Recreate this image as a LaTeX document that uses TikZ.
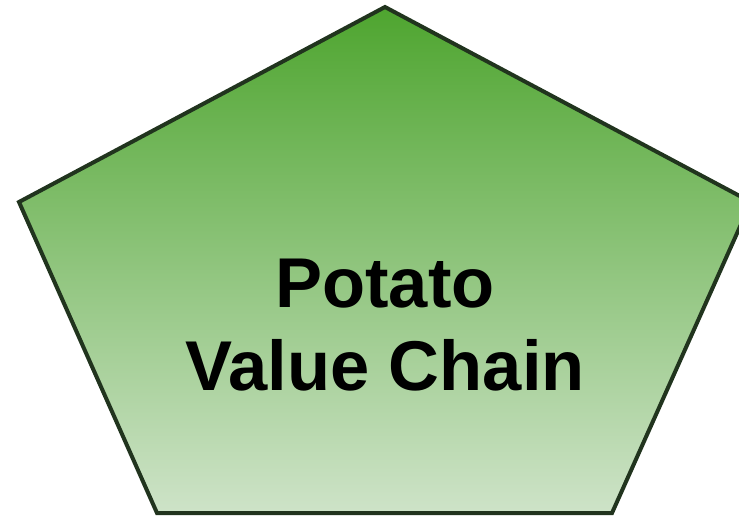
\documentclass[tikz,border=0pt]{standalone}
\usepackage{fontspec}
\setmainfont{Liberation Sans}
\definecolor{gtop}{RGB}{78,165,47}
\definecolor{gbot}{RGB}{206,227,200}
\definecolor{edge}{RGB}{33,52,30}
\tikzset{
  pent/.style={draw=edge, line width=4pt, line join=miter, top color=gtop, bottom color=gbot},
  title/.style={font=\fontsize{70.5}{82}\selectfont\bfseries, text=black, inner sep=0pt, anchor=base}
}
\begin{document}
\begin{tikzpicture}[x=1pt,y=-1pt]
\useasboundingbox (0,0) rectangle (739,515);
\begin{scope}
\clip (0,0) rectangle (739,515);
\path[pent] (385,7) -- (751,202) -- (612,513) -- (157,513) -- (19,202) -- cycle;
\end{scope}
\node[title] (l1) at (385,307) {Potato};
\node[title] (l2) at (385,390) {Value Chain};
\end{tikzpicture}
\end{document}
